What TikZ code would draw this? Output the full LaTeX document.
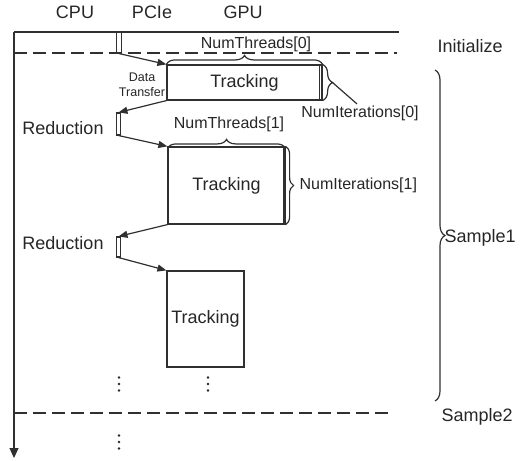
\documentclass[tikz,border=0pt]{standalone}
\usepackage{fontspec}
\setmainfont{Liberation Sans}
\usetikzlibrary{arrows.meta,decorations.pathreplacing}
\definecolor{ink}{HTML}{262626}
\definecolor{lineink}{HTML}{303030}
\begin{document}
\begin{tikzpicture}[x=1pt,y=-1pt,
  line width=1.2pt, draw=lineink, text=ink,
  big/.style={font=\fontsize{18}{20}\selectfont, inner sep=1pt, text=ink},
  mid/.style={font=\fontsize{16}{18}\selectfont, inner sep=1pt, text=ink},
  tiny/.style={font=\fontsize{12.5}{15}\selectfont, inner sep=0pt, text=ink, align=center},
  box/.style={draw=lineink, inner sep=0pt, font=\fontsize{18}{20}\selectfont, text=ink},
  barbox/.style={draw=lineink, inner sep=0pt, minimum width=4.5pt, line width=1.1pt},
  arr/.style={draw=lineink, -{Triangle[length=9pt,width=7pt]}, line width=1.2pt},
  br/.style={draw=lineink, decorate, decoration={brace, amplitude=#1}},
  br/.default=9pt,
  dsh/.style={draw=lineink, dash pattern=on 13pt off 6pt},
  dotmark/.style={fill=ink, draw=none}
]
\useasboundingbox (0,0) rectangle (521,460);

% headers
\node[big] (cpu) at (75,12.5) {CPU};
\node[big] (pcielbl) at (152,12.5) {PCIe};
\node[big] (gpu) at (243,12.5) {GPU};

% timeline frame
\coordinate (tl) at (14,32);
\coordinate (tr) at (399,32);
\coordinate (bot) at (14,458);
\draw (tl) -- (tr);
\draw[-{Triangle[length=10pt,width=9pt]}] (tl) -- (bot);
\coordinate (d1a) at (14,53);
\coordinate (d1b) at (397,53);
\draw[dsh] (d1a) -- (d1b);
\coordinate (d2a) at (14,413);
\coordinate (d2b) at (392,413);
\draw[dsh] (d2a) -- (d2b);

% bars
\node[barbox, minimum height=21pt] (pcie) at (119,42.5) {};
\node[barbox, minimum height=22pt] (red1) at (118.5,124) {};
\node[barbox, minimum height=20pt] (red2) at (118.5,247) {};

% tracking boxes
\node[box, minimum width=155pt, minimum height=35pt] (t0) at (244.5,82.5) {Tracking};
\draw ([xshift=-3pt]t0.north east) -- ([xshift=-3pt]t0.south east);
\node[box, minimum width=117pt, minimum height=77pt] (t1) at (226.5,185.5) {Tracking};
\draw ([xshift=-2pt]t1.north east) -- ([xshift=-2pt]t1.south east);
\node[box, minimum width=77pt, minimum height=96pt] (t2) at (205.5,319) {Tracking};

% arrows
\draw[arr] (pcie.south) -- (t0.north west);
\draw[arr] (t0.south west) -- (red1.north);
\draw[arr] (red1.south) -- (t1.north west);
\draw[arr] (t1.south west) -- (red2.north);
\draw[arr] (red2.south) -- (t2.north west);

% labels
\node[tiny] (dt) at (142,85) {Data\\Transfer};
\node[big] (r1) at (63,128) {Reduction};
\node[big] (r2) at (63,243) {Reduction};

% braces
\draw[br=9pt] (t0.north west) -- (t0.north east);
\node[mid] (nt0) at (256,44) {NumThreads[0]};
\draw[br=10pt] (t0.north east) -- (t0.south east);
\coordinate (tip0) at (332.5,82.5);
\node[mid] (ni0) at (360,113) {NumIterations[0]};
\draw (tip0) -- ([xshift=-3pt]ni0.north);

\draw[br=9pt] ([yshift=-2pt]t1.north west) -- ([yshift=-2pt]t1.north east);
\node[mid] (nt1) at (229,124) {NumThreads[1]};
\draw[br=8pt] (t1.north east) -- (t1.south east);
\node[mid, anchor=west] (ni1) at (298,185.5) {NumIterations[1]};

\coordinate (s1a) at (435,70);
\coordinate (s1b) at (435,401);
\draw[br=10pt] (s1a) -- (s1b);
\node[big, anchor=west] (s1) at (443,238) {Sample1};
\node[big, anchor=west] (init) at (436,46) {Initialize};
\node[big, anchor=west] (s2) at (440,417) {Sample2};

% vertical ellipses
\foreach \x/\y in {119/384, 208/384, 119/442} {
  \fill[dotmark] (\x,\y-6.5) circle (1.3pt);
  \fill[dotmark] (\x,\y) circle (1.3pt);
  \fill[dotmark] (\x,\y+6.5) circle (1.3pt);
}
\end{tikzpicture}
\end{document}
